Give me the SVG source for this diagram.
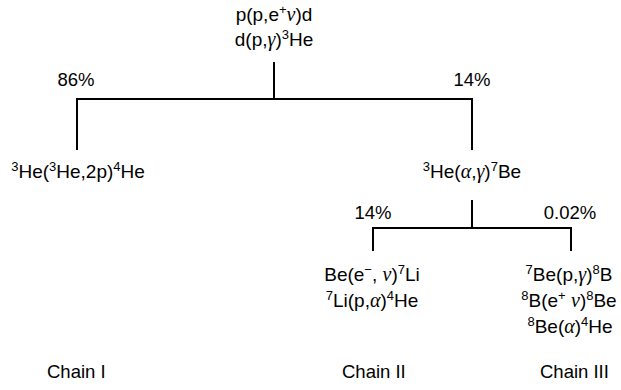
<svg xmlns="http://www.w3.org/2000/svg" width="621" height="390" viewBox="0 0 621 390">
<style>
text{font-family:"Liberation Sans",Arial,sans-serif;font-size:19px;fill:#000;text-anchor:middle}
.s{font-size:13px;baseline-shift:7px}
.g{font-family:"Liberation Serif","DejaVu Serif",serif;font-style:italic;font-size:20px}
.p{font-size:18.5px}
.c{font-size:18.5px;text-anchor:start}
line{stroke:#000;stroke-width:2;fill:none}
</style>
<rect width="621" height="390" fill="#fff"/>
<g id="connectors">
<line x1="274" y1="62" x2="274" y2="99"/>
<line x1="76" y1="99" x2="473" y2="99"/>
<line x1="77" y1="99" x2="77" y2="150"/>
<line x1="472" y1="99" x2="472" y2="150"/>
<line x1="472" y1="200" x2="472" y2="228"/>
<line x1="372" y1="228" x2="572" y2="228"/>
<line x1="373" y1="228" x2="373" y2="251"/>
<line x1="571" y1="228" x2="571" y2="251"/>
</g>
<g id="pp">
<text x="274" y="21">p(p,e<tspan class="s">+</tspan><tspan class="g">ν</tspan>)d</text>
<text x="274" y="46">d(p,<tspan class="g">γ</tspan>)<tspan class="s">3</tspan>He</text>
</g>
<g id="branch1">
<text class="p" x="76" y="86">86%</text>
<text class="p" x="472" y="86">14%</text>
</g>
<g id="he3he3">
<text x="78" y="178"><tspan class="s">3</tspan>He(<tspan class="s">3</tspan>He,2p)<tspan class="s">4</tspan>He</text>
</g>
<g id="he3alpha">
<text x="472" y="178"><tspan class="s">3</tspan>He(<tspan class="g">α</tspan>,<tspan class="g">γ</tspan>)<tspan class="s">7</tspan>Be</text>
</g>
<g id="branch2">
<text class="p" x="373" y="219">14%</text>
<text class="p" x="570" y="219">0.02%</text>
</g>
<g id="chain2">
<text x="372" y="281">Be(e<tspan class="s">−</tspan>, <tspan class="g">ν</tspan>)<tspan class="s">7</tspan>Li</text>
<text x="372" y="307"><tspan class="s">7</tspan>Li(p,<tspan class="g">α</tspan>)<tspan class="s">4</tspan>He</text>
</g>
<g id="chain3">
<text x="569" y="281"><tspan class="s">7</tspan>Be(p,<tspan class="g">γ</tspan>)<tspan class="s">8</tspan>B</text>
<text x="569" y="307"><tspan class="s">8</tspan>B(e<tspan class="s">+</tspan> <tspan class="g">ν</tspan>)<tspan class="s">8</tspan>Be</text>
<text x="570" y="333"><tspan class="s">8</tspan>Be(<tspan class="g">α</tspan>)<tspan class="s">4</tspan>He</text>
</g>
<g id="labels">
<text class="c" x="47" y="378">Chain I</text>
<text class="c" x="342" y="378">Chain II</text>
<text class="c" x="540" y="378">Chain III</text>
</g>
</svg>
